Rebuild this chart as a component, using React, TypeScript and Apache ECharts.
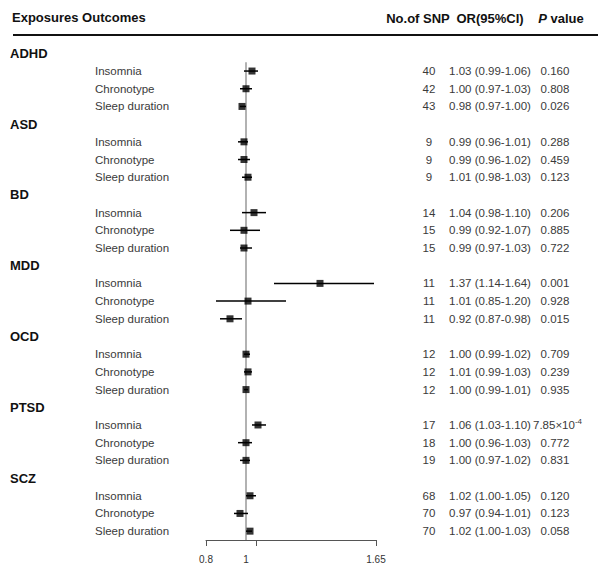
import React, { useEffect, useRef } from "react";
import * as echarts from "echarts";

const exposures = ["ADHD", "ASD", "BD", "MDD", "OCD", "PTSD", "SCZ"];
const outcomes = ["Insomnia", "Chronotype", "Sleep duration"];
const snpCounts = [
  [40, 42, 43],
  [9, 9, 9],
  [14, 15, 15],
  [11, 11, 11],
  [12, 12, 12],
  [17, 18, 19],
  [68, 70, 70],
];
const orValues = [
  [1.03, 1.0, 0.98],
  [0.99, 0.99, 1.01],
  [1.04, 0.99, 0.99],
  [1.37, 1.01, 0.92],
  [1.0, 1.01, 1.0],
  [1.06, 1.0, 1.0],
  [1.02, 0.97, 1.02],
];
const ciLower = [
  [0.99, 0.97, 0.97],
  [0.96, 0.96, 0.98],
  [0.98, 0.92, 0.97],
  [1.14, 0.85, 0.87],
  [0.99, 0.99, 0.99],
  [1.03, 0.96, 0.97],
  [1.0, 0.94, 1.0],
];
const ciUpper = [
  [1.06, 1.03, 1.0],
  [1.01, 1.02, 1.03],
  [1.1, 1.07, 1.03],
  [1.64, 1.2, 0.98],
  [1.02, 1.03, 1.01],
  [1.1, 1.03, 1.02],
  [1.05, 1.01, 1.03],
];
const pValues = [
  ["0.160", "0.808", "0.026"],
  ["0.288", "0.459", "0.123"],
  ["0.206", "0.885", "0.722"],
  ["0.001", "0.928", "0.015"],
  ["0.709", "0.239", "0.935"],
  ["7.85×10{s|-4}", "0.772", "0.831"],
  ["0.120", "0.123", "0.058"],
];
const xTickValues = [0.8, 1.05, 1.65];
const xLabelValues = [0.8, 1, 1.65];
const refValue = 1;

const FONT = "'Liberation Sans', Arial, sans-serif";

const fmt = (v: number) => v.toFixed(2);

export default function App() {
  const ref = useRef<HTMLDivElement>(null);
  useEffect(() => {
    const chart = echarts.init(ref.current!, null, { renderer: "svg" });
    const per = outcomes.length + 1;
    const totalRows = exposures.length * per;
    const textRows: number[][] = [];
    const points: number[][] = [];
    const cis: number[][] = [];
    exposures.forEach((e, g) => {
      const base = g * per;
      textRows.push([refValue, base, 0, g, 0]);
      outcomes.forEach((o, j) => {
        const r = base + 1 + j;
        points.push([orValues[g][j], r]);
        cis.push([ciLower[g][j], r, ciUpper[g][j]]);
        textRows.push([refValue, r, 1, g, j]);
      });
    });

    const option: any = {
      animation: false,
      backgroundColor: "#fff",
      grid: { left: 206, width: 170, top: 44.5, height: 495.5 },
      xAxis: {
        type: "value",
        position: "bottom",
        min: 0.8,
        max: 1.65,
        axisLine: { show: true, onZero: false, lineStyle: { color: "#555", width: 1 } },
        axisTick: {
          show: true,
          customValues: xTickValues,
          length: 6,
          lineStyle: { color: "#555", width: 1 },
        },
        axisLabel: {
          customValues: xLabelValues,
          formatter: (v: number) => String(v),
          fontSize: 10,
          color: "#333",
          fontFamily: FONT,
          margin: 14,
        },
        splitLine: { show: false },
      },
      yAxis: {
        type: "value",
        inverse: true,
        min: -0.5,
        max: totalRows - 0.5,
        show: false,
      },
      graphic: [
        {
          type: "text",
          left: 12,
          top: 11,
          style: {
            text: "Exposures Outcomes",
            font: `bold 13px ${FONT}`,
            fill: "#111",
          },
        },
        {
          type: "text",
          x: 418,
          y: 18,
          style: {
            text: "No.of SNP",
            font: `bold 13px ${FONT}`,
            fill: "#111",
            align: "center",
            verticalAlign: "middle",
          },
        },
        {
          type: "text",
          x: 490,
          y: 18,
          style: {
            text: "OR(95%CI)",
            font: `bold 13px ${FONT}`,
            fill: "#111",
            align: "center",
            verticalAlign: "middle",
          },
        },
        {
          type: "text",
          x: 561,
          y: 18,
          style: {
            text: "{i|P} value",
            font: `bold 13px ${FONT}`,
            fill: "#111",
            align: "center",
            verticalAlign: "middle",
            rich: {
              i: { fontStyle: "italic", fontWeight: "bold", fontSize: 13, fontFamily: FONT },
            },
          },
        },
        {
          type: "line",
          shape: { x1: 13, y1: 35, x2: 598, y2: 35 },
          style: { stroke: "#111", lineWidth: 2 },
        },
      ],
      series: [
        {
          type: "line",
          data: [
            [refValue, 0.5],
            [refValue, totalRows - 0.5],
          ],
          symbol: "none",
          lineStyle: { color: "#999", width: 1.5 },
          z: 1,
          silent: true,
        },
        {
          type: "custom",
          data: cis,
          encode: { x: 0, y: 1 },
          z: 2,
          renderItem: (params: any, api: any) => {
            const p1 = api.coord([api.value(0), api.value(1)]);
            const p2 = api.coord([api.value(2), api.value(1)]);
            return {
              type: "line",
              shape: { x1: p1[0], y1: p1[1], x2: p2[0], y2: p2[1] },
              style: { stroke: "#000", lineWidth: 1.5 },
            };
          },
        },
        {
          type: "scatter",
          data: points,
          symbol: "rect",
          symbolSize: 7,
          itemStyle: { color: "#000" },
          z: 3,
        },
        {
          type: "custom",
          data: textRows,
          encode: { x: 0, y: 1 },
          z: 4,
          clip: false,
          renderItem: (params: any, api: any) => {
            const y = api.coord([api.value(0), api.value(1)])[1];
            const kind = api.value(2);
            const g = api.value(3);
            const j = api.value(4);
            if (kind === 0) {
              return {
                type: "text",
                x: 10,
                y,
                style: {
                  text: exposures[g],
                  font: `bold 13px ${FONT}`,
                  fill: "#111",
                  align: "left",
                  verticalAlign: "middle",
                },
              };
            }
            const base = { font: `11.5px ${FONT}`, fill: "#3a3a3a", verticalAlign: "middle" };
            const pText = pValues[g][j];
            const pStyle: any = { ...base, text: pText, align: "center" };
            if (pText.indexOf("{s|") >= 0) {
              pStyle.align = "left";
              pStyle.rich = {
                s: { fontSize: 8, fontFamily: FONT, fill: "#3a3a3a", padding: [0, 0, 7, 0] },
              };
            }
            return {
              type: "group",
              children: [
                { type: "text", x: 95, y, style: { ...base, text: outcomes[j], align: "left" } },
                { type: "text", x: 429, y, style: { ...base, text: String(snpCounts[g][j]), align: "center" } },
                {
                  type: "text",
                  x: 490,
                  y,
                  style: {
                    ...base,
                    text: `${fmt(orValues[g][j])} (${fmt(ciLower[g][j])}-${fmt(ciUpper[g][j])})`,
                    align: "center",
                  },
                },
                {
                  type: "text",
                  x: pStyle.align === "left" ? 533 : 555,
                  y,
                  style: pStyle,
                },
              ],
            };
          },
        },
      ],
    };
    chart.setOption(option);
    return () => chart.dispose();
  }, []);
  return (
    <div
      ref={ref}
      style={{ position: "absolute", left: 0, top: 0, width: 598, height: 569, background: "#fff" }}
    />
  );
}
